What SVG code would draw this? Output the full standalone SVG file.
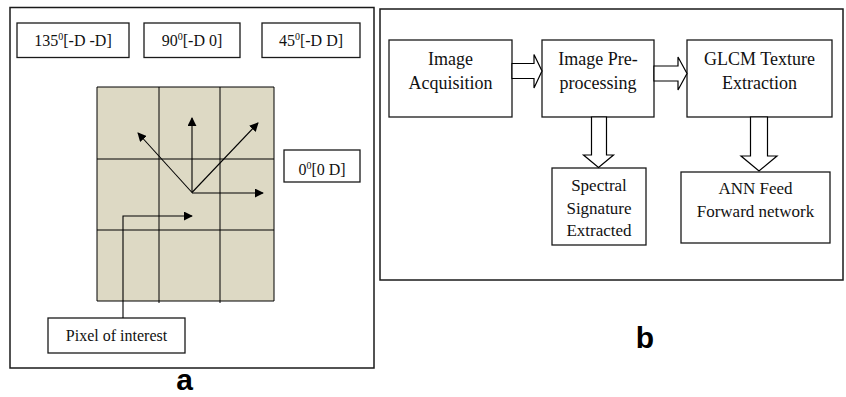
<svg xmlns="http://www.w3.org/2000/svg" width="846" height="397" viewBox="0 0 846 397">
<defs>
<style>
.frame{fill:#fff;stroke:#1a1a1a;stroke-width:1.5}
.box{fill:#fff;stroke:#1a1a1a;stroke-width:1.3}
.t{font-family:"Liberation Serif","Times New Roman",serif;fill:#111;text-anchor:middle}
.ta{font-size:16px}
.tb{font-size:18px}
.tc{font-size:17px}
.sup{font-size:10px}
.lbl{font-family:"Liberation Sans",Arial,sans-serif;font-weight:bold;font-size:30px;fill:#000;text-anchor:middle}
.grid{fill:none;stroke:#000;stroke-width:1}
.ln{fill:none;stroke:#000;stroke-width:1.1}
.blk{fill:#fff;stroke:#000;stroke-width:1.2;stroke-linejoin:miter}
</style>
<marker id="ah" viewBox="0 0 10 10" refX="9" refY="5" markerWidth="9" markerHeight="9" markerUnits="userSpaceOnUse" orient="auto">
<path d="M0,0 L10,5 L0,10 z" fill="#000"/>
</marker>
</defs>
<rect width="846" height="397" fill="#fff"/>

<!-- Panel a -->
<g id="panel-a">
<rect class="frame" x="10" y="7.5" width="364" height="360.5"/>
<g id="grid">
<rect x="97" y="87" width="177" height="214" fill="#DDD9C4"/>
<path class="grid" d="M97,87H274V301H97Z M159,87V303 M220,87V303 M97,159H274 M97,230H274"/>
</g>
<g id="box-135">
<rect class="box" x="17" y="23" width="112" height="34.5"/>
<text class="t ta" x="73" y="46">135<tspan class="sup" dy="-6">0</tspan><tspan dy="6">[-D -D]</tspan></text>
</g>
<g id="box-90">
<rect class="box" x="144" y="23" width="96" height="34.5"/>
<text class="t ta" x="192" y="46">90<tspan class="sup" dy="-6">0</tspan><tspan dy="6">[-D 0]</tspan></text>
</g>
<g id="box-45">
<rect class="box" x="262" y="23" width="98" height="34.5"/>
<text class="t ta" x="311" y="46">45<tspan class="sup" dy="-6">0</tspan><tspan dy="6">[-D D]</tspan></text>
</g>
<g id="box-0">
<rect class="box" x="284" y="150" width="76" height="32"/>
<text class="t ta" x="322" y="175">0<tspan class="sup" dy="-6">0</tspan><tspan dy="6">[0 D]</tspan></text>
</g>
<g id="box-pixel">
<rect class="box" x="48" y="318" width="137" height="35"/>
<text class="t ta" x="116.5" y="341">Pixel of interest</text>
</g>
<g id="connectors-a">
<line class="ln" x1="192" y1="192.5" x2="192" y2="118" marker-end="url(#ah)"/>
<line class="ln" x1="192" y1="192.5" x2="138" y2="133" marker-end="url(#ah)"/>
<line class="ln" x1="192" y1="192.5" x2="258" y2="123" marker-end="url(#ah)"/>
<line class="ln" x1="192" y1="193" x2="263" y2="193" marker-end="url(#ah)"/>
<polyline class="ln" points="123,318 123,216 192,216" marker-end="url(#ah)"/>
</g>
<text class="lbl" x="184.5" y="390">a</text>
</g>

<!-- Panel b -->
<g id="panel-b">
<rect class="frame" x="380" y="9" width="463" height="271"/>
<g id="node-acq">
<rect class="box" x="389" y="40" width="123" height="77"/>
<text class="t tb" x="450.5" y="65">Image</text>
<text class="t tb" x="450.5" y="89">Acquisition</text>
</g>
<g id="node-pre">
<rect class="box" x="542" y="40" width="112" height="77"/>
<text class="t tb" x="598" y="65">Image Pre-</text>
<text class="t tb" x="598" y="89">processing</text>
</g>
<g id="node-glcm">
<rect class="box" x="687" y="40" width="145" height="77"/>
<text class="t tb" x="759.5" y="65">GLCM Texture</text>
<text class="t tb" x="759.5" y="89">Extraction</text>
</g>
<g id="node-spectral">
<rect class="box" x="552" y="168" width="94" height="77"/>
<text class="t tc" x="599" y="191">Spectral</text>
<text class="t tc" x="599" y="213.5">Signature</text>
<text class="t tc" x="599" y="236">Extracted</text>
</g>
<g id="node-ann">
<rect class="box" x="681" y="172" width="149" height="71"/>
<text class="t tc" x="755.5" y="194">ANN Feed</text>
<text class="t tc" x="755.5" y="217">Forward network</text>
</g>
<g id="connectors-b">
<polygon class="blk" points="512,63.5 534,63.5 534,54.5 542,71 534,88 534,78.5 512,78.5"/>
<polygon class="blk" points="654,66 678,66 678,57 687,73.5 678,90 678,81 654,81"/>
<polygon class="blk" points="591.5,117 606.5,117 606.5,155 613.5,155 598.5,167.5 583.5,155 591.5,155"/>
<polygon class="blk" points="750.5,117 767.5,117 767.5,156 777,156 759,171 741,156 750.5,156"/>
</g>
<text class="lbl" x="645" y="348">b</text>
</g>
</svg>
